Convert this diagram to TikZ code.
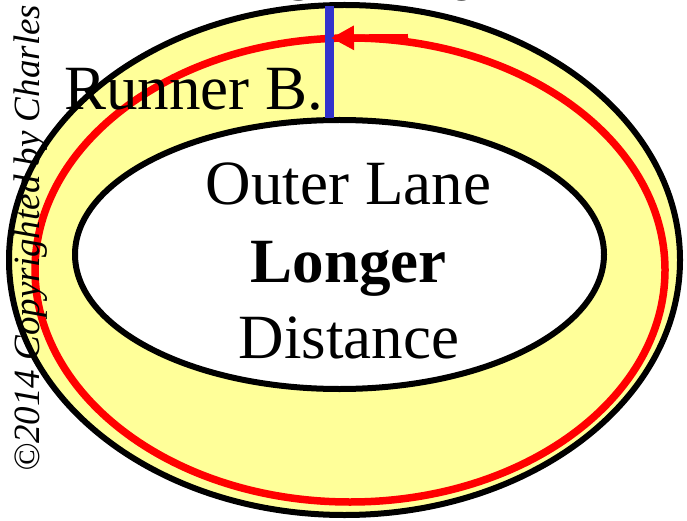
\documentclass[tikz,border=0pt]{standalone}
\usepackage{fontspec}
\setmainfont{Liberation Serif}
\usetikzlibrary{arrows.meta}
\definecolor{trackyellow}{HTML}{FFFF99}
\definecolor{finishblue}{HTML}{3333CC}

\begin{document}
\begin{tikzpicture}[x=1pt,y=1pt,>={Triangle[length=23pt,width=23pt]},
  big/.style={inner sep=0pt,anchor=base,font=\fontsize{63}{76}\selectfont}]
\useasboundingbox (0,0) rectangle (687,520);
\clip (0,0) rectangle (687,520);
% track
\draw[line width=6pt,fill=trackyellow] (344.5,260) ellipse [x radius=335.5,y radius=255];
\draw[line width=7.5pt,red] (350,250) ellipse [x radius=315,y radius=232];
\draw[line width=6pt,fill=white] (339.5,265.5) ellipse [x radius=264.5,y radius=134.5];
% finish line and running direction
\coordinate (lineTop) at (329.5,514);
\coordinate (lineBot) at (329.5,402);
\draw[line width=9pt,finishblue] (lineTop) -- (lineBot);
\coordinate (arrStart) at (408,482.5);
\coordinate (arrTip) at (331,482);
\draw[->,red,line width=7pt] (arrStart) -- (arrTip);
% labels
\node[big] (finish) at (330,519) {Finish Line};
\node[big] (runner) at (193.5,410) {Runner B.};
\node[big] (outer) at (348.5,315) {Outer Lane};
\node[big,font=\fontsize{63}{76}\selectfont\bfseries] (longer) at (348.5,238) {Longer};
\node[big] (dist) at (349,162) {Distance};
\node[rotate=90,anchor=base west,inner sep=0pt,font=\fontsize{37}{44}\selectfont\itshape] (copy) at (39,48) {©2014 Copyrighted by Charles};
\end{tikzpicture}
\end{document}
